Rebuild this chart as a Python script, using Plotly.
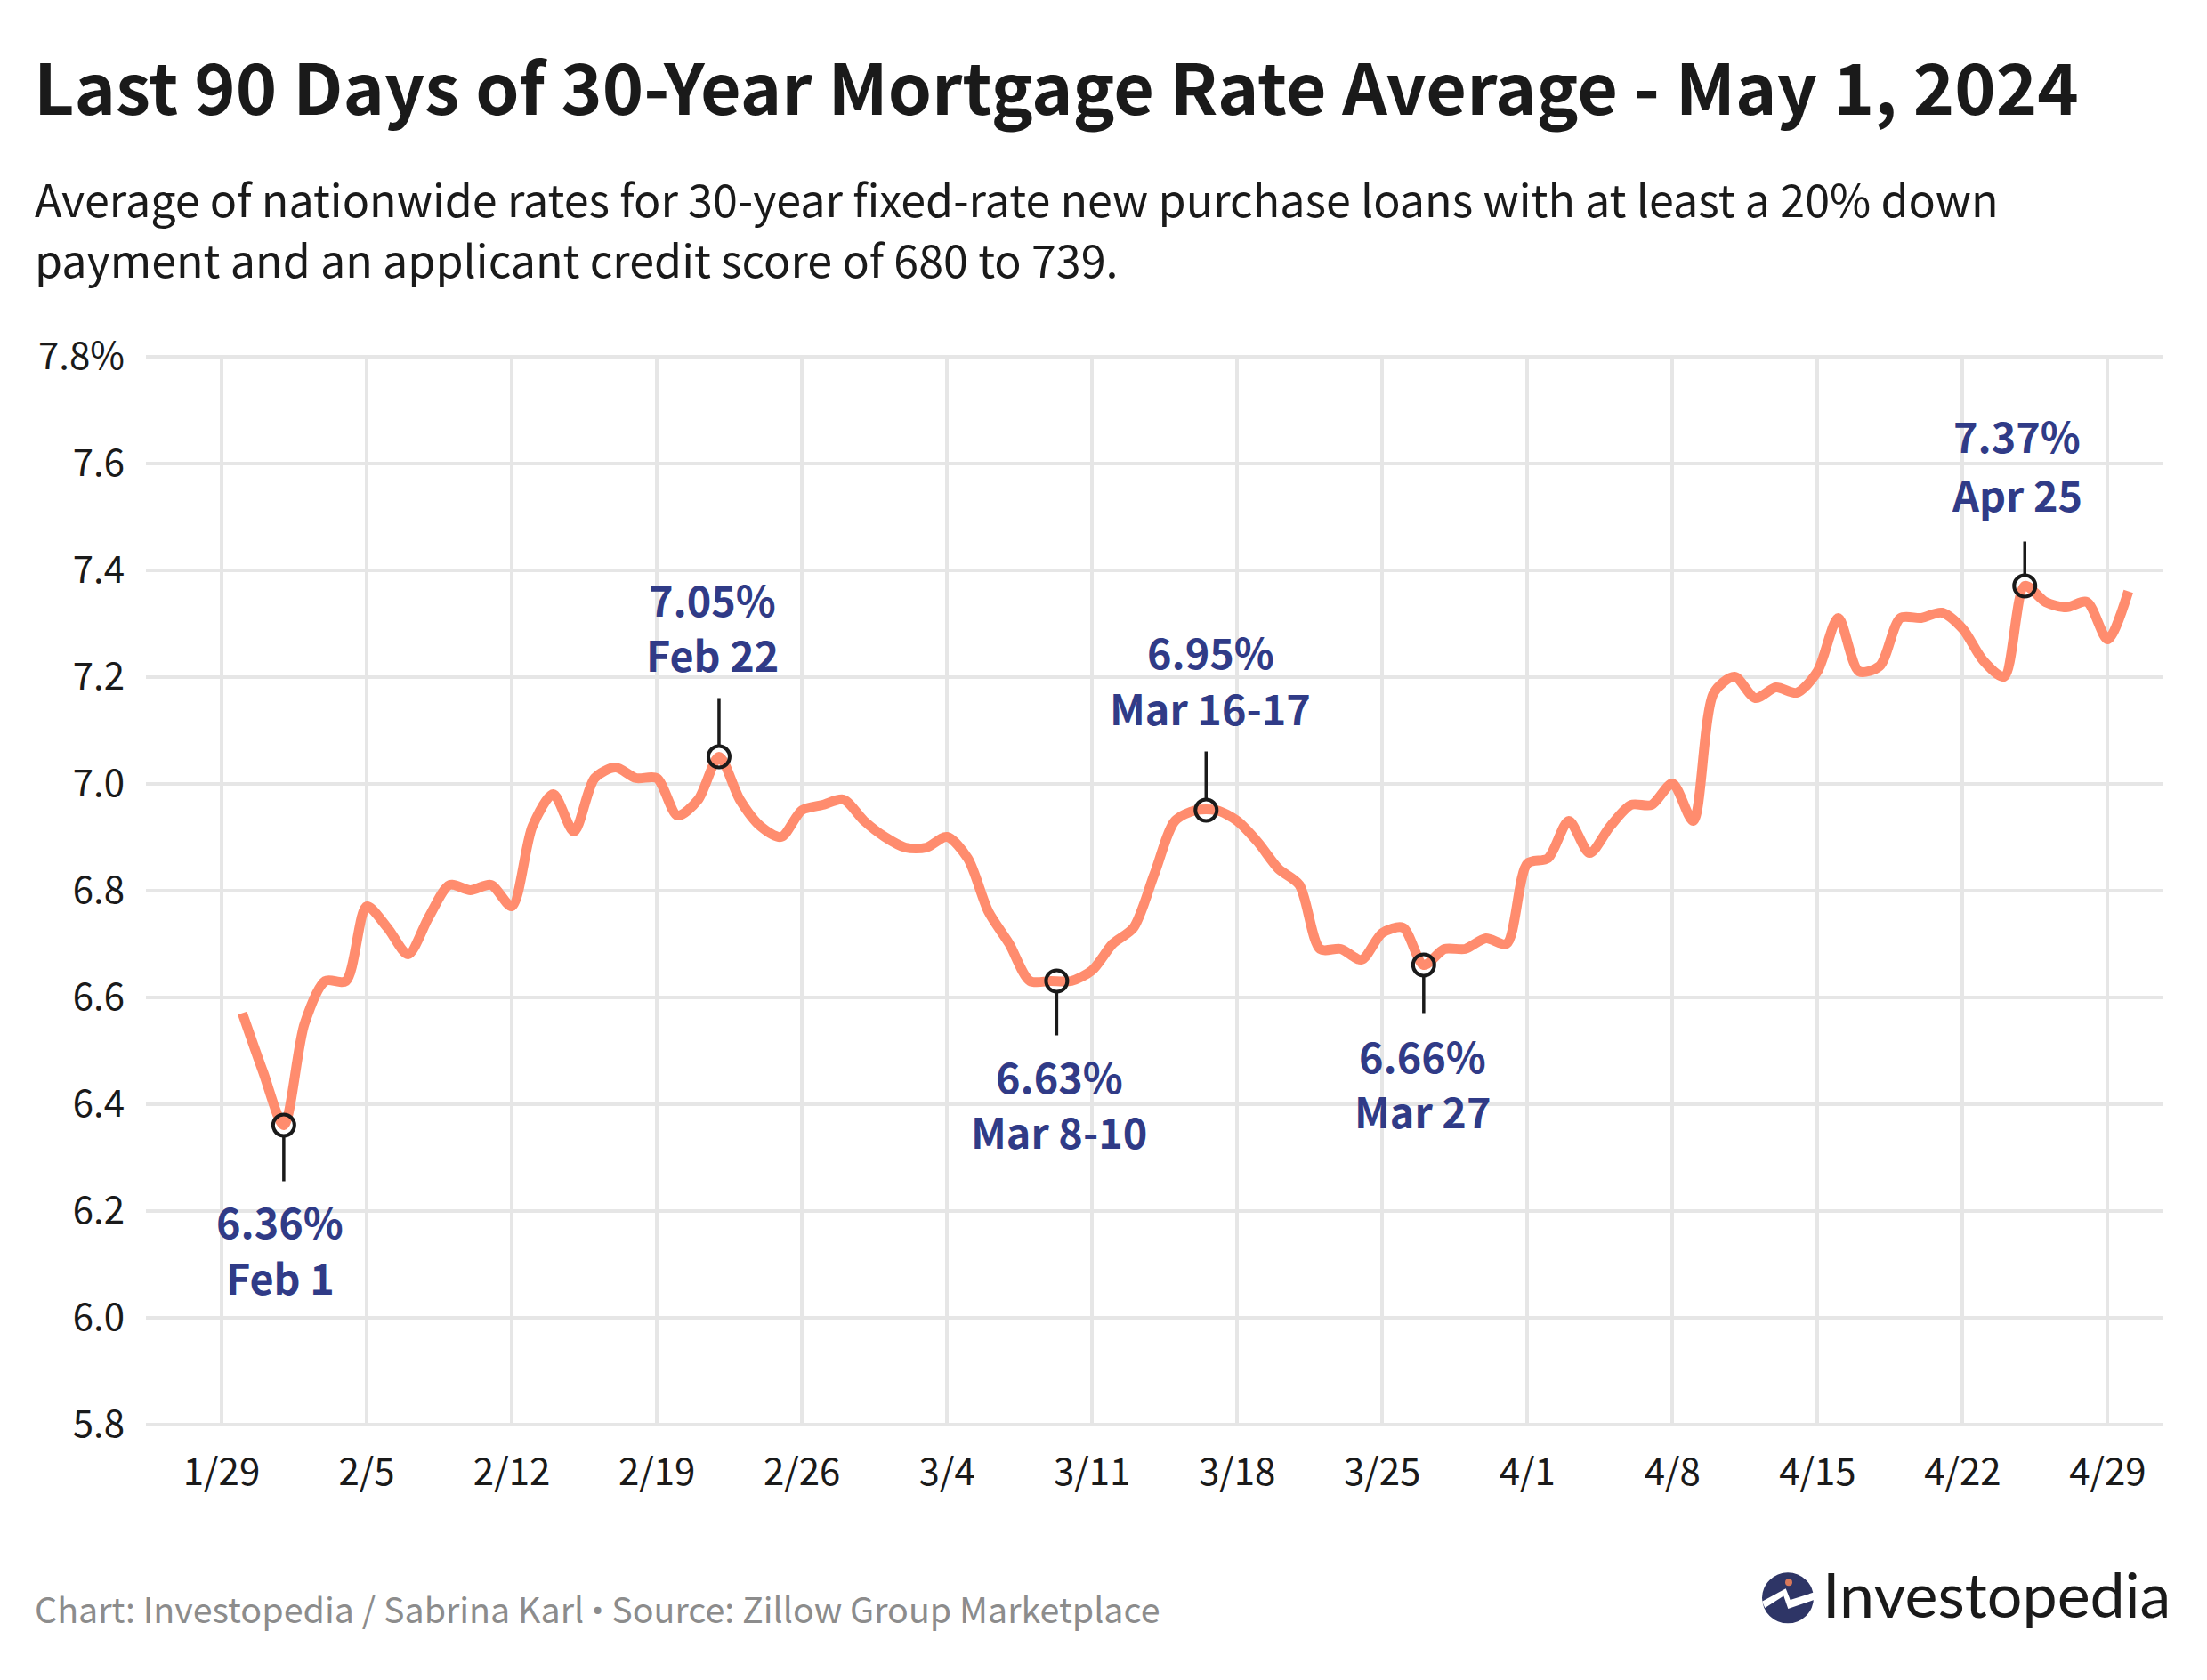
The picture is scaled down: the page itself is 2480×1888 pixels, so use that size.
import plotly.graph_objects as go
from datetime import datetime, timedelta

# ---- data ----
start_date = "2024-01-30"
rates = [6.57, 6.46, 6.36, 6.55, 6.63, 6.63, 6.77, 6.73, 6.68, 6.75, 6.81, 6.80, 6.81, 6.77,
         6.92, 6.98, 6.91, 7.01, 7.03, 7.01, 7.01, 6.94, 6.97, 7.05, 6.97, 6.92, 6.90, 6.95,
         6.96, 6.97, 6.93, 6.90, 6.88, 6.88, 6.90, 6.86, 6.76, 6.70, 6.63, 6.63, 6.63, 6.65,
         6.70, 6.73, 6.83, 6.93, 6.95, 6.95, 6.93, 6.89, 6.84, 6.81, 6.69, 6.69, 6.67, 6.72,
         6.73, 6.66, 6.69, 6.69, 6.71, 6.70, 6.85, 6.86, 6.93, 6.87, 6.92, 6.96, 6.96, 7.00,
         6.93, 7.17, 7.20, 7.16, 7.18, 7.17, 7.21, 7.31, 7.21, 7.22, 7.31, 7.31, 7.32, 7.29,
         7.23, 7.20, 7.37, 7.34, 7.33, 7.34, 7.27, 7.36]
x_tick_dates = ["2024-01-29", "2024-02-05", "2024-02-12", "2024-02-19", "2024-02-26", "2024-03-04",
                "2024-03-11", "2024-03-18", "2024-03-25", "2024-04-01", "2024-04-08", "2024-04-15",
                "2024-04-22", "2024-04-29"]
x_tick_labels = ["1/29", "2/5", "2/12", "2/19", "2/26", "3/4", "3/11", "3/18", "3/25", "4/1", "4/8",
                 "4/15", "4/22", "4/29"]
y_tick_values = [5.8, 6.0, 6.2, 6.4, 6.6, 6.8, 7.0, 7.2, 7.4, 7.6, 7.8]
y_tick_labels = ["5.8", "6.0", "6.2", "6.4", "6.6", "6.8", "7.0", "7.2", "7.4", "7.6", "7.8%"]

call_dates = ["2024-02-01", "2024-02-22", "2024-03-09 07:00", "2024-03-16 12:00", "2024-03-27", "2024-04-25"]
call_values = [6.36, 7.05, 6.63, 6.95, 6.66, 7.37]
call_pct = ["6.36%", "7.05%", "6.63%", "6.95%", "6.66%", "7.37%"]
call_when = ["Feb 1", "Feb 22", "Mar 8-10", "Mar 16-17", "Mar 27", "Apr 25"]

TITLE = "Last 90 Days of 30-Year Mortgage Rate Average - May 1, 2024"
SUB1 = "Average of nationwide rates for 30-year fixed-rate new purchase loans with at least a 20% down"
SUB2 = "payment and an applicant credit score of 680 to 739."
FOOT_A = "Chart: Investopedia / Sabrina Karl"
FOOT_B = "Source: Zillow Group Marketplace"
LOGO = "Investopedia"

# ---- layout constants (pixels) ----
W, H = 2480, 1888
L, R, T, B = 164, 2430, 400, 1601
PAD = 1.5
X_ORIGIN = 249
PX_PER_DAY = 23.29
FONT = "Noto Sans CJK SC"
INK = "#1a1a1a"
NAVY = "#303b87"
CORAL = "#ff8c6e"
GRID = "#e6e6e6"
# per-callout placement, same order as the callouts: direction, leader end, label shifts
DIRECTION = [-1, 1, -1, 1, -1, 1]
LEADER_NEAR = 13
LEADER_FAR = [63, 66, 61, 66, 54, 50]
LABEL_DX = [-4, -7, 3, 5, -1, -9]
LABEL_DY = [107, 178, 106, 179, 101, 170]
LINE_GAP = [63, 62, 62, 63, 62, 66]


def px(x):
    return (x - L) / (R - L)


def py(y):
    return (B - y) / (B - T)


dates = [datetime.fromisoformat(start_date) + timedelta(days=i) for i in range(len(rates))]
day0 = datetime.fromisoformat(x_tick_dates[0])
range_lo = day0 + timedelta(days=(L - X_ORIGIN) / PX_PER_DAY)
range_hi = day0 + timedelta(days=(R - X_ORIGIN) / PX_PER_DAY)
y_per_px = 2.0 / (B - T)

fig = go.Figure()
fig.add_trace(go.Scatter(x=dates, y=rates, mode="lines",
                         line=dict(color=CORAL, width=11, shape="spline", smoothing=0.8),
                         hoverinfo="skip", showlegend=False))
fig.add_trace(go.Scatter(x=call_dates, y=call_values, mode="markers",
                         marker=dict(size=24, color="rgba(0,0,0,0)", line=dict(color=INK, width=4)),
                         hoverinfo="skip", showlegend=False))

annotations = []
shapes = []
for i, (d, v) in enumerate(zip(call_dates, call_values)):
    s = DIRECTION[i]
    shapes.append(dict(type="line", xref="x", yref="y", ysizemode="pixel", yanchor=v, x0=d, x1=d,
                       y0=s * LEADER_NEAR, y1=s * LEADER_FAR[i], line=dict(color=INK, width=3.5)))
    pct_shift = s * LABEL_DY[i]
    for txt, shift in ((call_pct[i], pct_shift), (call_when[i], pct_shift - LINE_GAP[i])):
        annotations.append(dict(x=d, y=v, xref="x", yref="y", text=f"<b>{txt}</b>", showarrow=False,
                                xanchor="center", yanchor="middle", xshift=LABEL_DX[i], yshift=shift,
                                font=dict(family=FONT, size=46.7, color=NAVY)))


def text(x, y, s, size, color, anchor="left", family=FONT):
    annotations.append(dict(x=px(x), y=py(y), xref="paper", yref="paper", text=s, showarrow=False,
                            xanchor=anchor, yanchor="middle",
                            font=dict(family=family, size=size, color=color)))


text(36, 97, f"<b>{TITLE}</b>", 78.8, INK)
text(37, 223, SUB1, 50.2, INK)
text(37, 291, SUB2, 50.2, INK)
text(37, 1805, FOOT_A + ' <span style="font-family:Roboto">•</span> ' + FOOT_B, 39.4, "#8c8c8c")
text(2046, 1790, LOGO, 70, INK, family="Lato")

logo_navy = "#2e3566"
shapes += [
    dict(type="circle", xref="paper", yref="paper", x0=px(1980), x1=px(2038), y0=py(1766), y1=py(1823),
         fillcolor=logo_navy, line=dict(width=0)),
    dict(type="circle", xref="paper", yref="paper", x0=px(2006), x1=px(2014), y0=py(1773), y1=py(1781),
         fillcolor="#d9785a", line=dict(width=0)),
    dict(type="path", xref="paper", yref="paper",
         path="M %f %f L %f %f L %f %f L %f %f L %f %f L %f %f L %f %f L %f %f Z" % (
             px(1980), py(1798.3), px(2006.7), py(1784), px(2011.7), py(1796.7), px(2038), py(1788.3),
             px(2038.3), py(1796.7), px(2009.3), py(1806.7), px(2004.3), py(1792.3), px(1983.3), py(1805.7)),
         fillcolor="white", line=dict(width=0)),
]

fig.update_layout(
    width=W, height=H, autosize=False,
    margin=dict(l=L, r=W - R, t=T - PAD, b=H - B - PAD, pad=0),
    paper_bgcolor="white", plot_bgcolor="white",
    annotations=annotations, shapes=shapes, showlegend=False,
    xaxis=dict(type="date", range=[range_lo, range_hi], tickmode="array", tickvals=x_tick_dates,
               ticktext=x_tick_labels, showgrid=True, gridcolor=GRID, gridwidth=3.5, zeroline=False,
               showline=False, ticks="", ticklabelstandoff=24,
               tickfont=dict(family=FONT, size=42, color=INK)),
    yaxis=dict(range=[5.8 - PAD * y_per_px, 7.8 + PAD * y_per_px], tickmode="array",
               tickvals=y_tick_values, ticktext=y_tick_labels,
               showgrid=True, gridcolor=GRID, gridwidth=3.5, zeroline=False, showline=False, ticks="",
               ticklabelstandoff=23, tickfont=dict(family=FONT, size=42, color=INK)),
)
fig.write_html("out.html", config={"displayModeBar": False},
               post_script="document.body.style.margin='0';")
